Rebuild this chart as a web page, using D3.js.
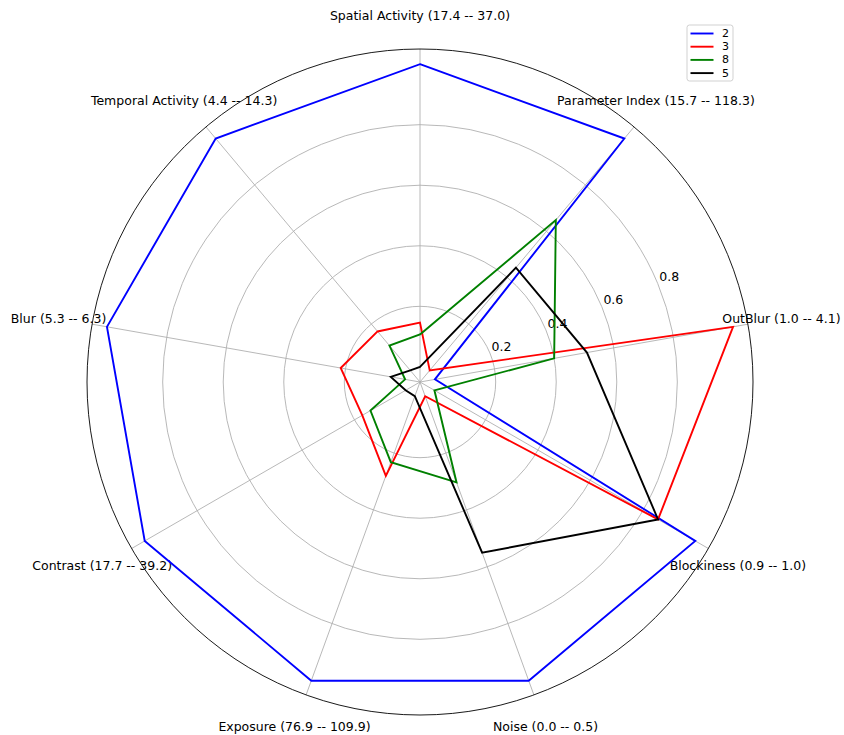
<!DOCTYPE html>
<html>
<head>
<meta charset="utf-8">
<script src="https://cdn.jsdelivr.net/npm/d3@7"></script>
<style>
  html, body { margin: 0; padding: 0; background: #fff; }
  svg { display: block; }
  text { font-family: "DejaVu Sans", sans-serif; fill: #000; }
</style>
</head>
<body>
<svg id="chart" width="844" height="735"></svg>
<script>
// ---- data ----
const categories = [
  "Spatial Activity (17.4 -- 37.0)",
  "Parameter Index (15.7 -- 118.3)",
  "OutBlur (1.0 -- 4.1)",
  "Blockiness (0.9 -- 1.0)",
  "Noise (0.0 -- 0.5)",
  "Exposure (76.9 -- 109.9)",
  "Contrast (17.7 -- 39.2)",
  "Blur (5.3 -- 6.3)",
  "Temporal Activity (4.4 -- 14.3)"
];
const seriesNames = ["2", "3", "8", "5"];
const series2 = [1.0, 1.0, 0.0, 1.0, 1.0, 1.0, 1.0, 1.0, 1.0];
const series3 = [0.146, 0.0, 1.0, 0.858, 0.0, 0.28, 0.17, 0.216, 0.168];
const series8 = [0.107, 0.648, 0.40, 0.005, 0.303, 0.232, 0.139, 0.0, 0.107];
const series5 = [0.0, 0.443, 0.51, 0.858, 0.55, 0.0, 0.005, 0.048, 0.0];
const radialTicks = [0.2, 0.4, 0.6, 0.8];
const colors = ["#0000ff", "#ff0000", "#008000", "#000000"];

// ---- layout ----
const cx = 420, cy = 382, R = 333;
const svg = d3.select("#chart");
const g = svg.append("g").attr("transform", `translate(${cx},${cy})`);

const r = d3.scaleLinear().domain([-0.05, 1.05]).range([0, R]);
const angle = d3.scaleLinear().domain([0, categories.length]).range([0, 2 * Math.PI]);

const px = (a, rad) => rad * Math.sin(a);
const py = (a, rad) => -rad * Math.cos(a);

// grid circles
g.selectAll("circle.grid").data(radialTicks).enter().append("circle")
  .attr("class", "grid")
  .attr("r", d => r(d))
  .attr("fill", "none")
  .attr("stroke", "#b0b0b0")
  .attr("stroke-width", 0.9);

// spokes
g.selectAll("line.spoke").data(categories).enter().append("line")
  .attr("x1", 0).attr("y1", 0)
  .attr("x2", (d, i) => px(angle(i), R))
  .attr("y2", (d, i) => py(angle(i), R))
  .attr("stroke", "#b0b0b0")
  .attr("stroke-width", 0.9);

// outer circle
g.append("circle").attr("r", R).attr("fill", "none")
  .attr("stroke", "#000").attr("stroke-width", 0.9);

// radial tick labels at 22.5 degrees above horizontal
const labAng = (90 - 22.5) * Math.PI / 180;
g.selectAll("text.rtick").data(radialTicks).enter().append("text")
  .attr("x", d => px(labAng, r(d) + 12.5))
  .attr("y", d => py(labAng, r(d) + 12.5) - 2)
  .attr("text-anchor", "middle")
  .attr("dominant-baseline", "central")
  .style("font-size", "12.5px")
  .style("fill", "#000")
  .text(d => d3.format(".1f")(d));

// category labels
g.selectAll("text.cat").data(categories).enter().append("text")
  .attr("x", (d, i) => px(angle(i), R + 34))
  .attr("y", (d, i) => py(angle(i), R + 34))
  .attr("text-anchor", "middle")
  .attr("dominant-baseline", "central")
  .style("font-size", "12.5px")
  .style("fill", "#000")
  .text(d => d);

// series lines
const allSeries = [series2, series3, series8, series5];
const line = d3.lineRadial()
  .angle((d, i) => angle(i))
  .radius(d => r(d))
  .curve(d3.curveLinearClosed);

allSeries.forEach((s, k) => {
  g.append("path")
    .attr("d", line(s))
    .attr("fill", "none")
    .attr("stroke", colors[k])
    .attr("stroke-width", 1.9)
    .attr("stroke-linejoin", "miter");
});

// legend
const lg = svg.append("g").attr("transform", "translate(687,25)");
lg.append("rect").attr("x", 0).attr("y", 0).attr("width", 46).attr("height", 56)
  .attr("rx", 2.5).attr("fill", "#fff").attr("fill-opacity", 0.8)
  .attr("stroke", "#cccccc").attr("stroke-width", 0.9);
seriesNames.forEach((n, k) => {
  const y = 8.5 + k * 13.2;
  lg.append("line").attr("x1", 3.5).attr("x2", 26.5).attr("y1", y).attr("y2", y)
    .attr("stroke", colors[k]).attr("stroke-width", 1.9);
  lg.append("text").attr("x", 35).attr("y", y).attr("dominant-baseline", "central")
    .style("font-size", "11px").style("fill", "#000").text(n);
});
</script>
</body>
</html>
